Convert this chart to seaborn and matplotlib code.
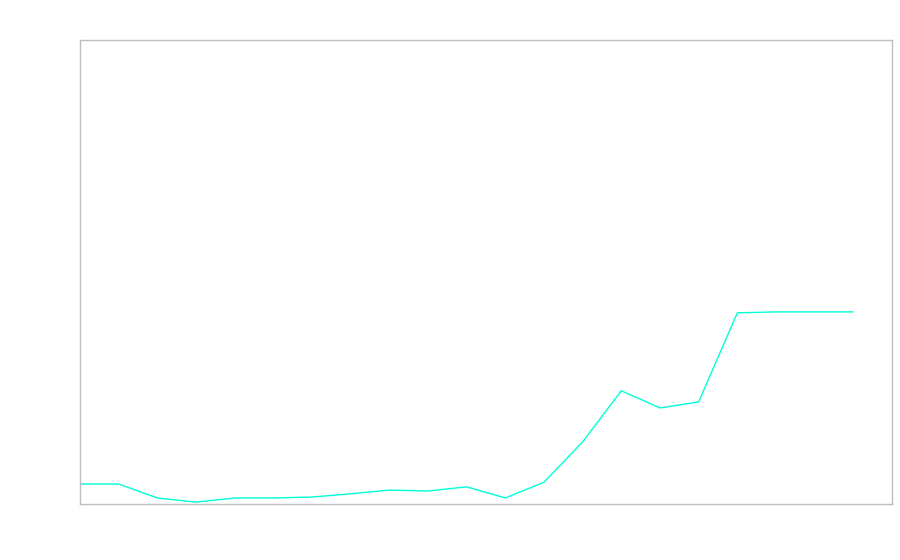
import pandas as pd
import seaborn as sns
import matplotlib
matplotlib.use('Agg')
import matplotlib.pyplot as plt

# данные
steps = list(range(21))
values = [4.3, 4.3, 1.3, 0.4, 1.3, 1.3, 1.5, 2.2, 3.0, 2.8, 3.7, 1.3, 4.7,
          13.4, 24.4, 20.7, 22.0, 41.2, 41.4, 41.4, 41.4]

df = pd.DataFrame({'step': steps, 'value': values})

sns.set_style('white')
fig = plt.figure(figsize=(9, 5.6), dpi=100)
ax = fig.add_axes([80 / 900, 1 - 504 / 560, 812 / 900, 464 / 560])
sns.lineplot(data=df, x='step', y='value', color='#00ffd8', linewidth=1, ax=ax)

ax.set_xlim(0, 21)
ax.set_ylim(0, 100)
ax.set_xticks([])
ax.set_yticks([])
ax.set_xlabel('')
ax.set_ylabel('')
for s in ax.spines.values():
    s.set_color('#bfbfbf')
    s.set_linewidth(1)

fig.savefig('out.png', dpi=100)
